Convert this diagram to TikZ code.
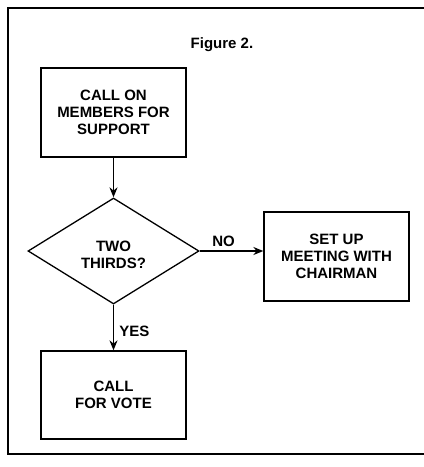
\documentclass[tikz,border=0pt]{standalone}
\usepackage{fontspec}
\setmainfont{Liberation Sans}
\usetikzlibrary{shapes.geometric,arrows.meta}
\begin{document}
\begin{tikzpicture}[x=1pt,y=-1pt,
  lbl/.style={font=\fontsize{15}{17}\selectfont\bfseries, align=center},
  box/.style={draw, line width=1.3pt, lbl, inner sep=0pt},
  conn/.style={line width=1.3pt, -{Stealth[length=10pt,width=8pt]}}]
\useasboundingbox (0,0) rectangle (424,467);
\draw[line width=2.4pt] (426,8) -- (8,8) -- (8,454) -- (426,454);
\node[lbl] (title) at (222,45) {Figure 2.};
\node[box, minimum width=145pt, minimum height=89pt] (b1) at (113.5,112.5) {CALL ON\\MEMBERS FOR\\SUPPORT};
\node[draw, line width=1.3pt, diamond, aspect=1.6, minimum width=171pt, minimum height=106pt, inner sep=0pt] (d) at (113.5,251) {};
\node[lbl] at (113.5,255) {TWO\\THIRDS?};
\node[box, minimum width=145pt, minimum height=89pt] (b2) at (336.5,256.5) {SET UP\\MEETING WITH\\CHAIRMAN};
\node[box, minimum width=145pt, minimum height=88pt] (b3) at (113.5,395) {CALL\\FOR VOTE};
\draw[conn] (b1.south) -- (d.north);
\draw[conn] (d.east) -- node[lbl, above, yshift=0pt, xshift=-8pt] {NO} (b2.west |- d.east);
\draw[conn] (d.south) -- node[lbl, right, xshift=2pt, yshift=-4pt] {YES} (b3.north);
\end{tikzpicture}
\end{document}
